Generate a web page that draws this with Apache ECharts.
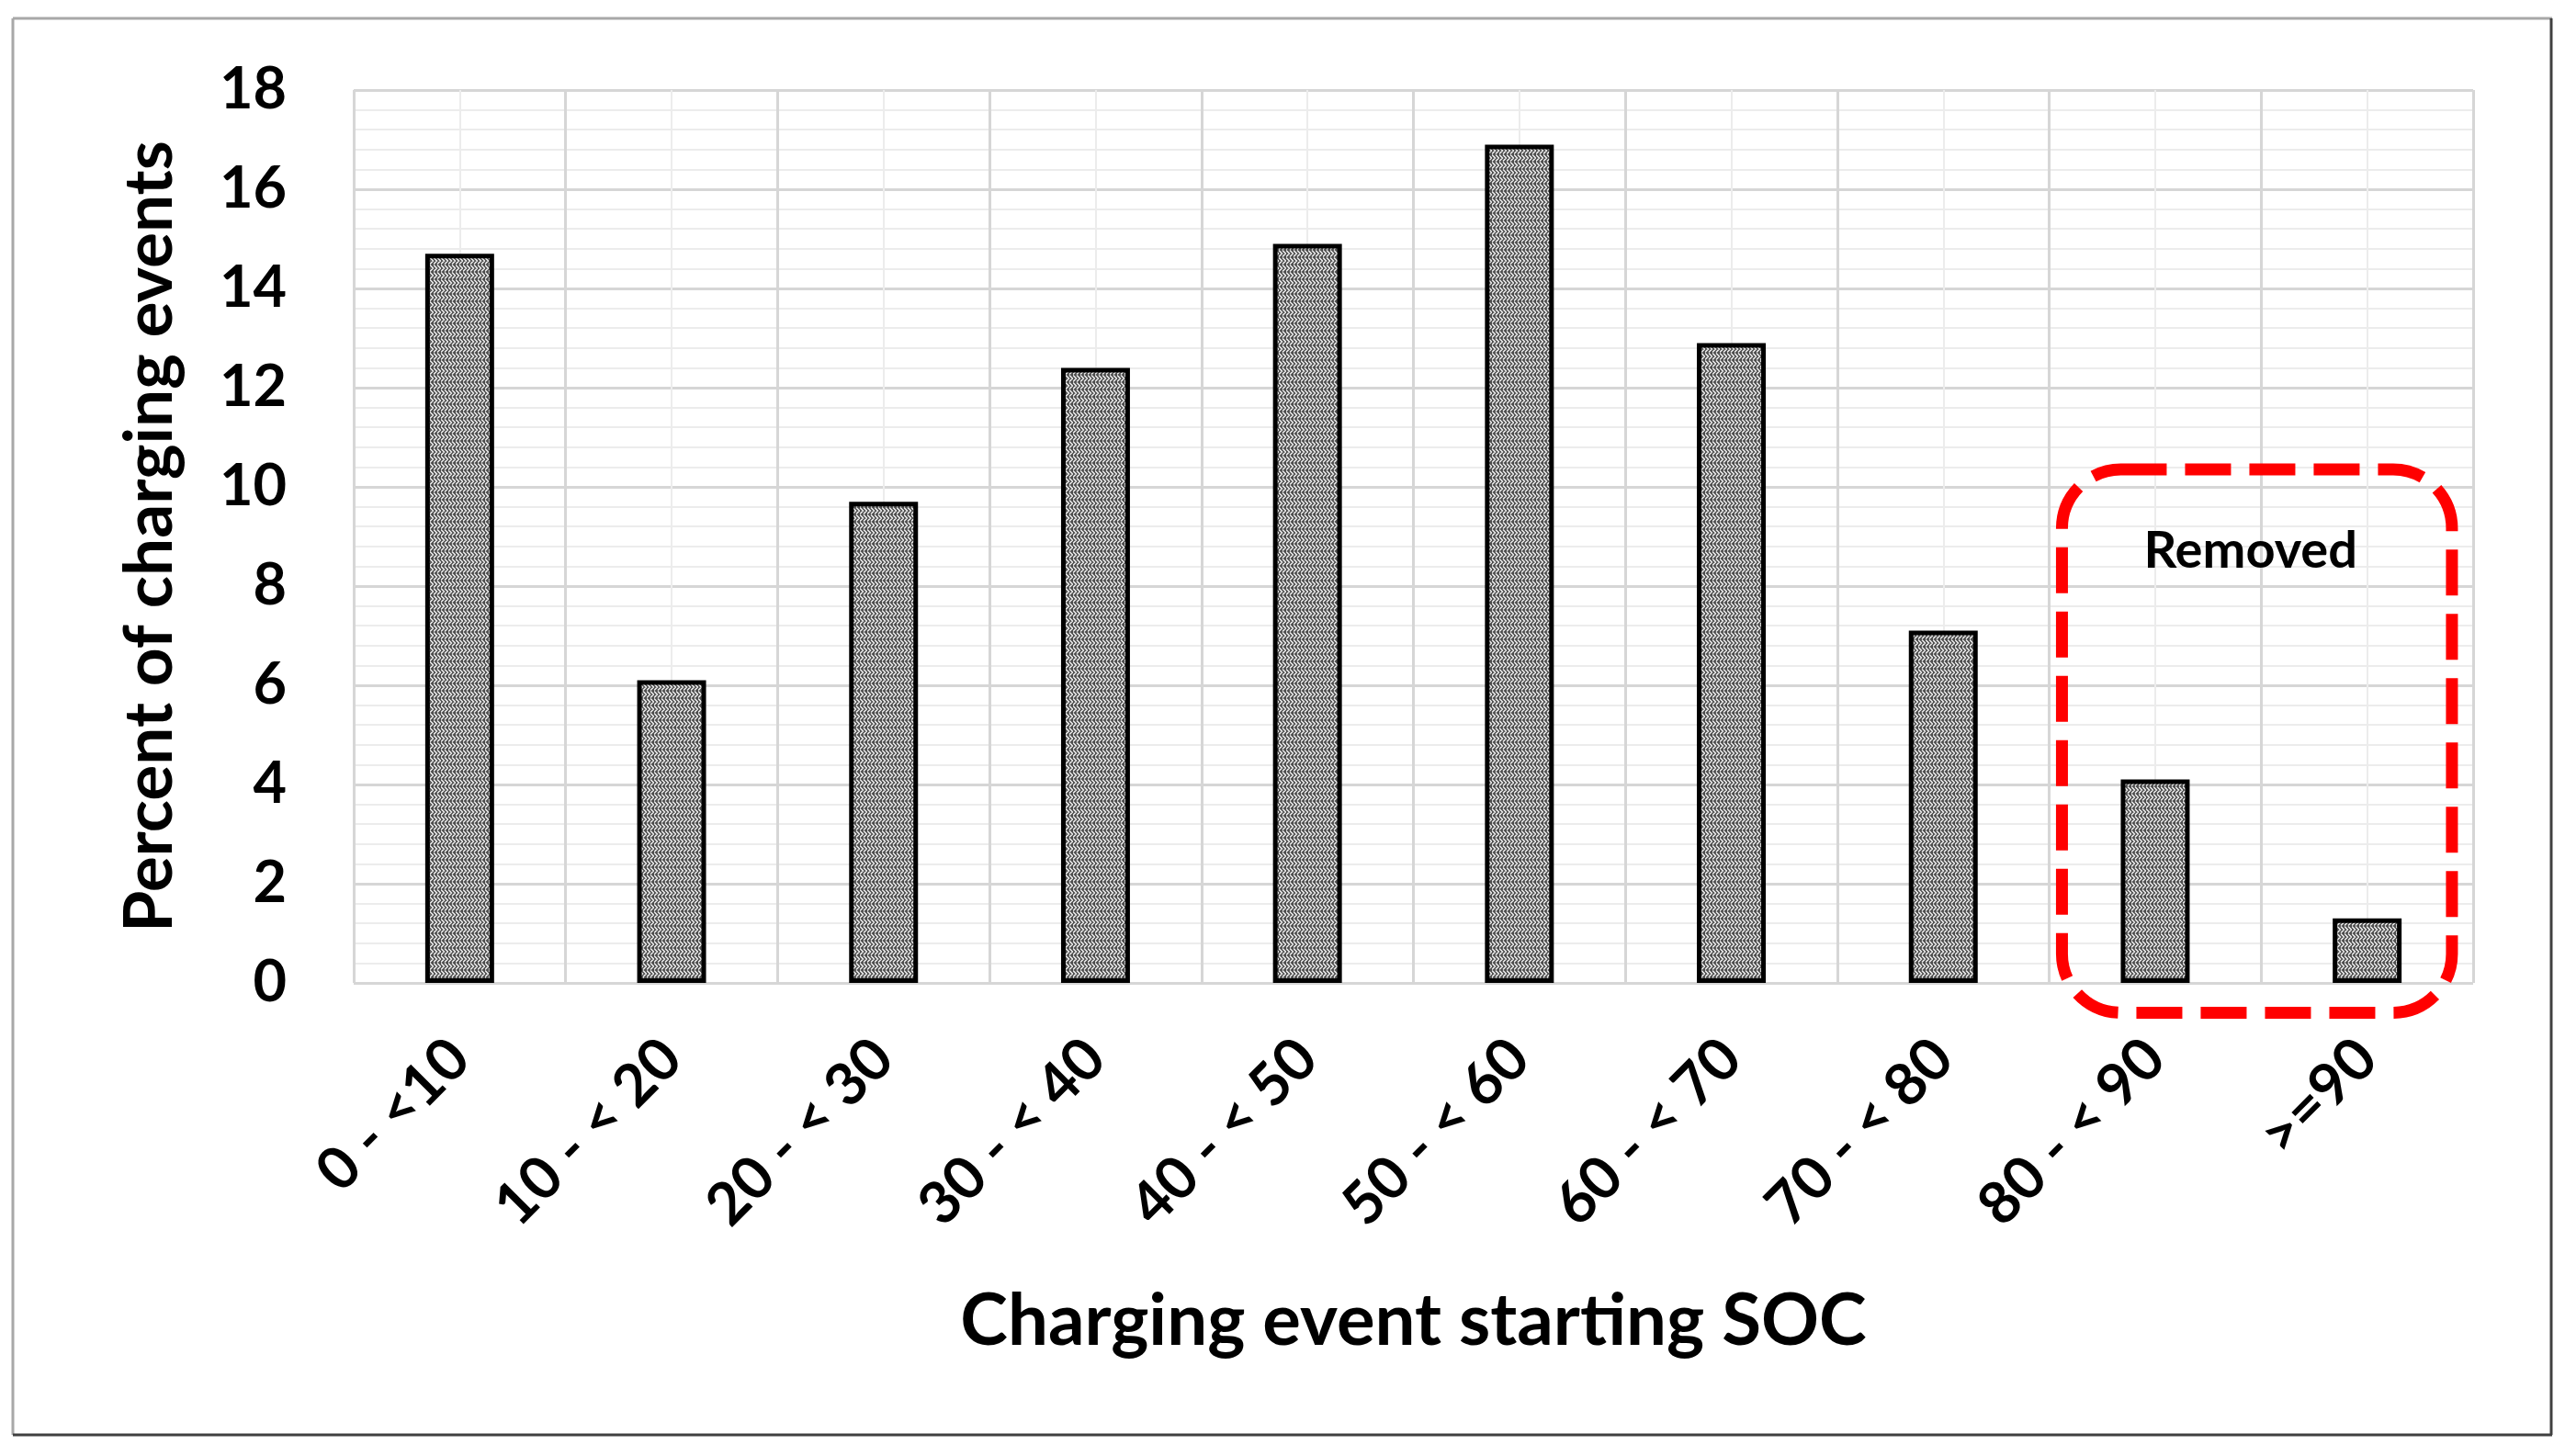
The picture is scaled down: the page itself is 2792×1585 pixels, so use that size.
<!DOCTYPE html>
<html>
<head>
<meta charset="utf-8">
<script src="https://cdn.jsdelivr.net/npm/echarts@6/dist/echarts.min.js"></script>
<style>
html,body{margin:0;padding:0;background:#fff;}
#main{width:2792px;height:1585px;}
</style>
</head>
<body>
<div id="main"></div>
<script>
// ---- data ----
const categories = ['0 - <10', '10 - < 20', '20 - < 30', '30 - < 40', '40 - < 50', '50 - < 60', '60 - < 70', '70 - < 80', '80 - < 90', '>=90'];
const percentValues = [14.7, 6.1, 9.7, 12.4, 14.9, 16.9, 12.9, 7.1, 4.1, 1.3];
const yTicks = [0, 2, 4, 6, 8, 10, 12, 14, 16, 18];
const xAxisTitle = 'Charging event starting SOC';
const yAxisTitle = 'Percent of charging events';
const annotationText = 'Removed';
// annotation box in axis units: [x from, x to] (category index space), [y from, y to]
const removedBoxX = [8.06, 9.9];
const removedBoxY = [-0.6, 10.35];
const removedLabelPos = [8.95, 8.7];

// ---- pattern fill ----
function makePattern() {
  const c = document.createElement('canvas');
  c.width = 8; c.height = 8;
  const g = c.getContext('2d');
  g.fillStyle = '#4e4e4e';
  g.fillRect(0, 0, 8, 8);
  g.strokeStyle = '#f4f4f4';
  g.lineWidth = 1.4;
  g.beginPath();
  g.moveTo(0, 0.5); g.lineTo(3.5, 4); g.lineTo(0, 7.5);
  g.moveTo(4, 0.5); g.lineTo(7.5, 4); g.lineTo(4, 7.5);
  g.stroke();
  return c;
}
const FONT = 'Lato, "Open Sans", sans-serif';

const chart = echarts.init(document.getElementById('main'), null, {renderer: 'canvas'});
const option = {
  backgroundColor: '#ffffff',
  animation: false,
  grid: {left: 385, right: 100, top: 98, bottom: 515, containLabel: false},
  xAxis: [
    {
      type: 'category',
      data: categories,
      boundaryGap: true,
      axisLine: {show: false},
      axisTick: {show: false},
      splitLine: {show: false},
      axisLabel: {
        interval: 0, rotate: 45, margin: 72,
        fontFamily: FONT, fontWeight: 'bold', fontSize: 64, color: '#000'
      },
      name: xAxisTitle,
      nameLocation: 'middle',
      nameGap: 330,
      nameTextStyle: {fontFamily: FONT, fontWeight: 'bold', fontSize: 78, color: '#000'}
    },
    {
      type: 'value',
      min: 0, max: categories.length, interval: 1,
      show: true,
      axisLine: {show: false}, axisTick: {show: false}, axisLabel: {show: false},
      splitLine: {show: true, lineStyle: {color: '#d6d6d6', width: 3}},
      minorTick: {show: false, splitNumber: 2},
      minorSplitLine: {show: true, lineStyle: {color: '#ececec', width: 2}}
    }
  ],
  yAxis: {
    type: 'value',
    min: yTicks[0], max: yTicks[yTicks.length - 1], interval: yTicks[1] - yTicks[0],
    axisLine: {show: false}, axisTick: {show: false},
    axisLabel: {margin: 73, fontFamily: FONT, fontWeight: 'bold', fontSize: 63, color: '#000'},
    splitLine: {show: true, lineStyle: {color: '#d6d6d6', width: 3}},
    minorTick: {show: false, splitNumber: 5},
    minorSplitLine: {show: true, lineStyle: {color: '#ececec', width: 2}},
    name: yAxisTitle,
    nameLocation: 'middle',
    nameGap: 185,
    nameRotate: 90,
    nameTextStyle: {fontFamily: FONT, fontWeight: 'bold', fontSize: 73, color: '#000'}
  },
  series: [{
    type: 'bar',
    xAxisIndex: 0, yAxisIndex: 0,
    data: percentValues,
    barWidth: '32.5%',
    z: 5,
    itemStyle: {
      color: {image: makePattern(), repeat: 'repeat'},
      borderColor: '#000', borderWidth: 5
    }
  }]
};
chart.setOption(option);

function px(xv, yv) {
  return [chart.convertToPixel({xAxisIndex: 1}, xv), chart.convertToPixel({yAxisIndex: 0}, yv)];
}
const p0 = px(removedBoxX[0], removedBoxY[1]);
const p1 = px(removedBoxX[1], removedBoxY[0]);
const pl = px(removedLabelPos[0], removedLabelPos[1]);
chart.setOption({
  graphic: [
    {type: 'line', shape: {x1: 14, y1: 20, x2: 2778, y2: 20}, style: {stroke: '#a8a8a8', lineWidth: 3}, z: 1},
    {type: 'line', shape: {x1: 14, y1: 20, x2: 14, y2: 1562}, style: {stroke: '#a8a8a8', lineWidth: 3}, z: 1},
    {type: 'line', shape: {x1: 2777, y1: 20, x2: 2777, y2: 1562}, style: {stroke: '#404040', lineWidth: 3}, z: 1},
    {type: 'line', shape: {x1: 14, y1: 1562, x2: 2778, y2: 1562}, style: {stroke: '#404040', lineWidth: 3}, z: 1},
    {
      type: 'rect', z: 100,
      shape: {x: p0[0], y: p0[1], width: p1[0] - p0[0], height: p1[1] - p0[1], r: 64},
      style: {fill: null, stroke: '#ff0000', lineWidth: 13, lineDash: [50, 20]}
    },
    {
      type: 'text', z: 101,
      x: pl[0], y: pl[1],
      style: {text: annotationText, fontFamily: FONT, fontWeight: 'bold', fontSize: 56, fill: '#000', align: 'center', verticalAlign: 'middle'}
    }
  ]
});
</script>
</body>
</html>
